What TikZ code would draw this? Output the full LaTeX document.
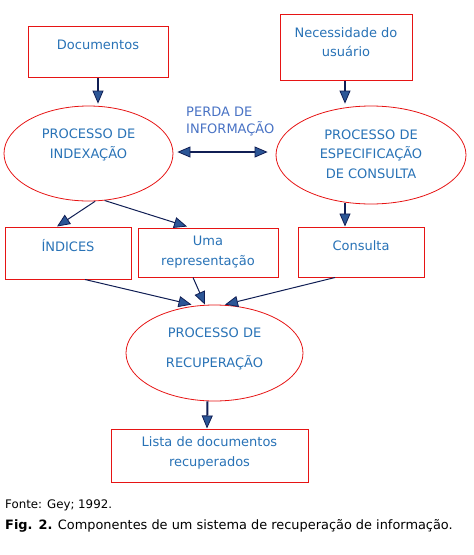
\documentclass[tikz,border=0pt]{standalone}
\usepackage{fontspec}
\setmainfont{DejaVu Sans}
\usetikzlibrary{shapes.geometric,arrows.meta,calc}
\definecolor{txtblue}{RGB}{40,114,182}
\definecolor{lossblue}{RGB}{72,114,196}
\definecolor{navy}{RGB}{16,30,84}
\definecolor{afill}{RGB}{44,86,150}
\definecolor{boxred}{RGB}{230,20,20}
\tikzset{
  box/.style={draw=boxred, line width=1pt, rectangle, inner sep=0pt},
  oval/.style={draw=boxred, line width=0.8pt, ellipse, inner sep=0pt},
  txt/.style={text=txtblue, align=center, inner sep=0pt, font=\fontsize{13}{19.5}\selectfont},
  captxt/.style={text=black, anchor=west, inner sep=0pt, font=\fontsize{11.8}{14}\selectfont},
  tip/.tip={Triangle[length=13pt,width=11pt,fill=afill,line width=0.8pt]},
  thickarr/.style={draw=navy, line width=2pt, -tip},
  thinarr/.style={draw=navy, line width=1pt, -tip},
  dblarr/.style={draw=navy, line width=2pt, tip-tip}
}
\begin{document}
\begin{tikzpicture}[x=1pt,y=-1pt]
\useasboundingbox (0,0) rectangle (474,555);
% boxes
\node[box, minimum width=140, minimum height=51] (doc) at (98,51.5) {};
\node[box, minimum width=132, minimum height=66] (nec) at (346,47) {};
\node[box, minimum width=126, minimum height=52] (ind) at (68,253) {};
\node[box, minimum width=140, minimum height=49] (uma) at (208,252.5) {};
\node[box, minimum width=126, minimum height=50] (con) at (361,252) {};
\node[box, minimum width=197, minimum height=53] (lis) at (209.5,455.5) {};
% ellipses
\node[oval, minimum width=169, minimum height=95] (idx) at (88.5,153.5) {};
\node[oval, minimum width=190, minimum height=98] (spe) at (371,155) {};
\node[oval, minimum width=177, minimum height=96] (rec) at (214.5,353) {};
% texts
\node[txt] (tdoc) at (98,45) {Documentos};
\node[txt] (tnec) at (346,42) {Necessidade do\\usuário};
\node[txt] (tidx) at (88.5,145) {PROCESSO DE\\INDEXAÇÃO};
\node[txt] (tspe) at (371,154) {PROCESSO DE\\ESPECIFICAÇÃO\\DE CONSULTA};
\node[txt] (tind) at (68,246) {ÍNDICES};
\node[txt] (tuma) at (208,252) {Uma\\representação};
\node[txt] (tcon) at (361,246) {Consulta};
\node[txt] (trec) at (214.5,349) {PROCESSO DE\\[10pt]RECUPERAÇÃO};
\node[txt] (tlis) at (209.5,453) {Lista de documentos\\recuperados};
\node[txt, text=lossblue, align=left, anchor=west, font=\fontsize{13}{17}\selectfont] (loss) at (186,121.5) {PERDA DE\\INFORMAÇÃO};
% caption
\node[captxt] (fonte) at (5,505) {Fonte: Gey; 1992.};
\node[captxt, font=\fontsize{12.9}{14}\selectfont] (fig) at (5,526) {\textbf{Fig. 2.} Componentes de um sistema de recuperação de informação.};
% connectors
\draw[thickarr] (doc.south) -- ($(doc.south |- idx.north)+(0,-2)$);
\draw[thickarr] ($(nec.south)+(-1,0)$) -- ($(nec.south |- spe.north)+(-1,-2)$);
\draw[thickarr] ($(spe.south)+(-26,-1)$) -- ($(con.north)+(-16,0)$);
\draw[thickarr] ($(rec.south)+(-7,0)$) -- ($(lis.north)+(-2.5,0)$);
\draw[dblarr] ($(idx.east)+(4,-1.5)$) -- ($(spe.west)+(-8,-3)$);
\draw[thinarr] (idx.-82) -- ($(ind.north)+(-11,0)$);
\draw[thinarr] (idx.-71) -- ($(uma.north)+(-21,-1)$);
\draw[thinarr] ($(ind.south)+(17,0)$) -- ($(rec.north)+(-23,0)$);
\draw[thinarr] ($(uma.south)+(-15,0)$) -- ($(rec.north)+(-9.5,0)$);
\draw[thinarr] ($(con.south)+(-26,0)$) -- ($(rec.north)+(10.5,0)$);
\end{tikzpicture}
\end{document}
